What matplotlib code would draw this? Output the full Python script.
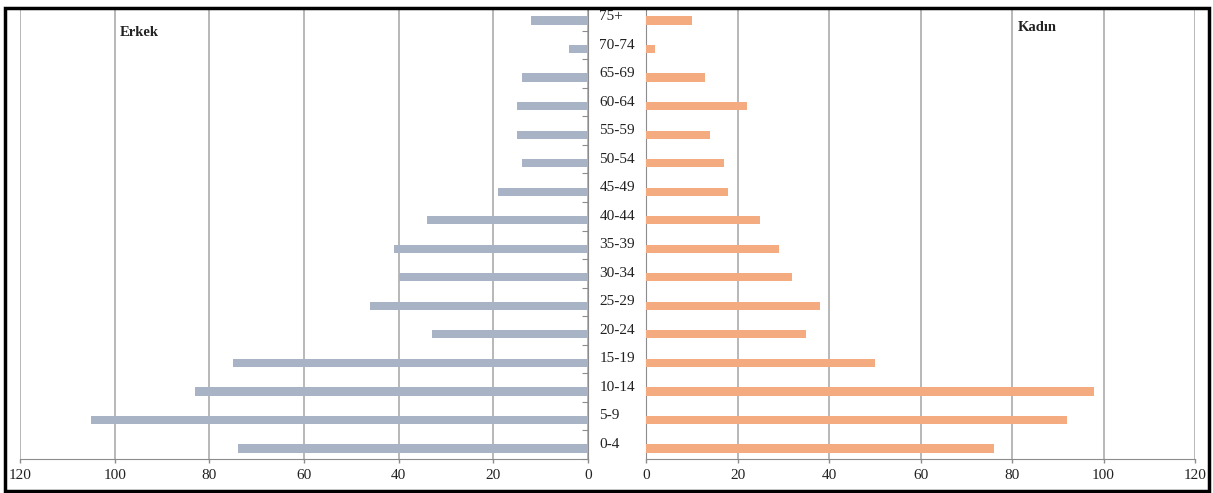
import matplotlib
matplotlib.use("Agg")
import matplotlib.pyplot as plt
from matplotlib.patches import Rectangle
import numpy as np

ages = ["0-4", "5-9", "10-14", "15-19", "20-24", "25-29", "30-34", "35-39",
        "40-44", "45-49", "50-54", "55-59", "60-64", "65-69", "70-74", "75+"]
erkek = [74, 105, 83, 75, 33, 46, 40, 41, 34, 19, 14, 15, 15, 14, 4, 12]
kadin = [76, 92, 98, 50, 35, 38, 32, 29, 25, 18, 17, 14, 22, 13, 2, 10]
ticks = [0, 20, 40, 60, 80, 100, 120]

plt.rcParams['font.family'] = ['Liberation Serif', 'DejaVu Serif']

W, H = 1213, 493
fig = plt.figure(figsize=(W / 100, H / 100), dpi=100)

def px_axes(x0, x1, y0, y1):
    return fig.add_axes([x0 / W, 1 - y1 / H, (x1 - x0) / W, (y1 - y0) / H])

grid_c = "#ababab"
y = np.arange(len(ages))
bh = 0.29

ax_l = px_axes(20, 588, 10, 459)
ax_r = px_axes(646, 1195, 10, 459)

for ax, vals, col in [(ax_l, erkek, "#a9b3c6"), (ax_r, kadin, "#f4ab7f")]:
    ax.barh(y, vals, height=bh, color=col, zorder=3)
    ax.set_xlim(0, 120)
    ax.set_ylim(-0.37, len(ages) - 0.63)
    ax.set_xticks(ticks)
    ax.set_xticklabels([str(t) for t in ticks], fontsize=11, color="#222222")
    ax.tick_params(axis="x", length=3, width=1, color="#8c8c8c", pad=4)
    ax.grid(axis="x", color=grid_c, linewidth=1.2, zorder=0)
    for s in ax.spines.values():
        s.set_visible(False)
    ax.spines["bottom"].set_visible(True)
    ax.spines["bottom"].set_color("#8c8c8c")

ax_l.invert_xaxis()
ax_l.spines["right"].set_visible(True)
ax_l.spines["right"].set_color("#8c8c8c")
ax_l.yaxis.tick_right()
ax_l.set_yticks(y - 0.36)
ax_l.set_yticklabels([])
ax_l.tick_params(axis="y", direction="in", length=4, color="#8c8c8c")

ax_r.spines["left"].set_visible(True)
ax_r.spines["left"].set_color("#8c8c8c")
ax_r.set_yticks([])

for i, a in enumerate(ages):
    ax_l.text(1.02, i + 0.14, a, transform=ax_l.get_yaxis_transform(),
              ha="left", va="center", fontsize=11, color="#222222")

ax_l.text(0.175, 0.949, "Erkek", transform=ax_l.transAxes, fontsize=10.5,
          fontweight="bold", color="#222222", ha="left", va="center")
ax_r.text(0.678, 0.96, "Kadın", transform=ax_r.transAxes, fontsize=10.5,
          fontweight="bold", color="#222222", ha="left", va="center")

fig.patches.append(Rectangle((5 / W, 1 - 491 / H), 1204 / W, 483 / H,
                             transform=fig.transFigure, fill=False,
                             edgecolor="black", linewidth=2.5))

fig.savefig("out.png", dpi=100)
